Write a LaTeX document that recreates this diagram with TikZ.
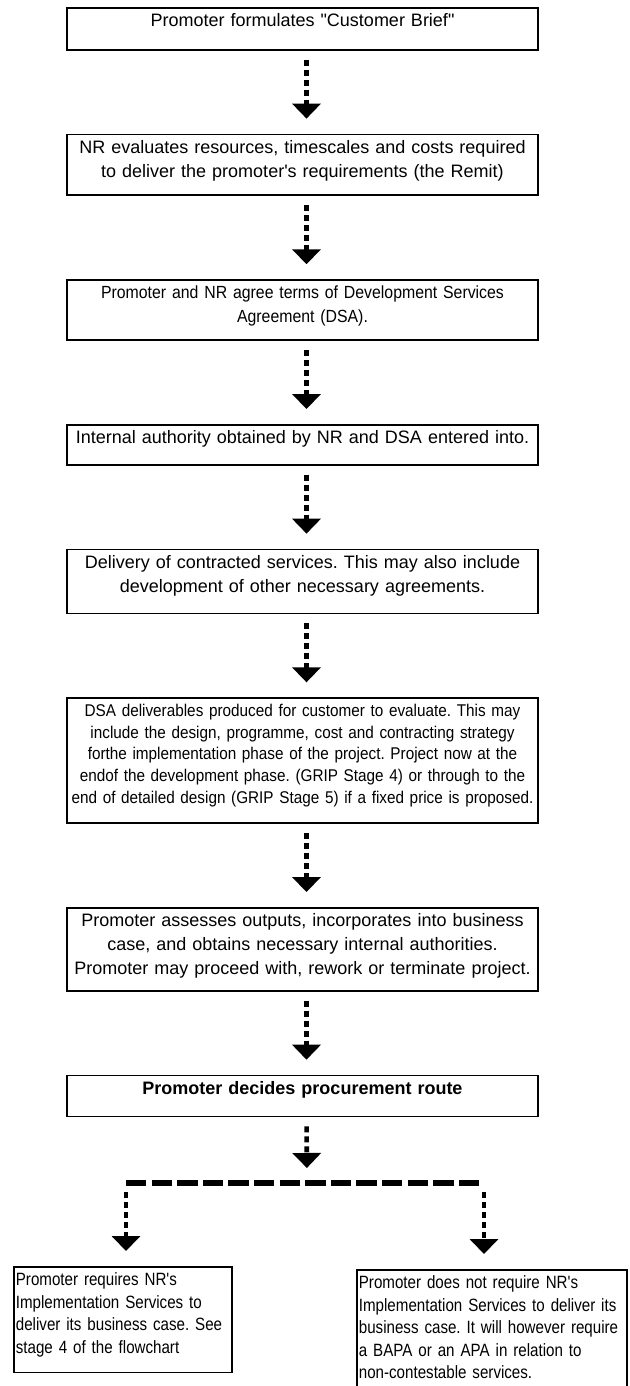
\documentclass[tikz,border=0pt]{standalone}
\usepackage{fontspec}
\setmainfont{Liberation Sans}[Ligatures=TeXOff]
\newfontfamily\narrowfont[FakeStretch=0.9,Ligatures=TeXOff]{Liberation Sans}
\newfontfamily\slimfont[FakeStretch=0.85,Ligatures=TeXOff]{Liberation Sans}
\frenchspacing
\usetikzlibrary{positioning,arrows.meta}

\begin{document}
\begin{tikzpicture}[x=1pt,y=1pt,node distance=41.5pt,
    box/.style={draw,line width=0.9pt,text width=229.5pt,inner xsep=3pt,inner ysep=3pt,align=center,font=\fontsize{9}{12}\selectfont},
    narrow/.style={box,text width=232.5pt,inner xsep=1.5pt,font=\narrowfont\fontsize{8.8}{12}\selectfont},
    side/.style={draw,line width=0.9pt,inner xsep=1pt,inner ysep=3pt,align=left,anchor=north west,font=\slimfont\fontsize{8.9}{11.2}\selectfont},
    flow/.style={line width=2.3pt,dash pattern=on 3pt off 2pt,-{Triangle[width=14pt,length=7.5pt]},shorten <=4.5pt,shorten >=7.5pt},
    branch/.style={line width=2.8pt,dash pattern=on 10.2pt off 2.6pt}]
  \useasboundingbox (0,0) rectangle (315,-693);
  \clip (0,0) rectangle (315,-693);

  \node[box,text depth=8.4pt,anchor=north] (b1) at (151.25,-3.5) {Promoter formulates "Customer Brief"};
  \node[box,text depth=17.9pt,below=of b1] (b2) {NR evaluates resources, timescales and costs required\\ to deliver the promoter's requirements (the Remit)};
  \node[narrow,text depth=17.6pt,below=of b2] (b3) {Promoter and NR agree terms of Development Services\\ Agreement (DSA).};
  \node[box,text depth=7.4pt,below=of b3] (b4) {Internal authority obtained by NR and DSA entered into.};
  \node[box,text depth=19.4pt,below=of b4] (b5) {Delivery of contracted services. This may also include\\ development of other necessary agreements.};
  \node[narrow,font=\narrowfont\fontsize{8.5}{10.85}\selectfont,text depth=50.3pt,below=of b5] (b6) {DSA deliverables produced for customer to evaluate. This may\\ include the design, programme, cost and contracting strategy\\ forthe implementation phase of the project. Project now at the\\ endof the development phase. (GRIP Stage 4) or through to the\\ end of detailed design (GRIP Stage 5) if a fixed price is proposed.};
  \node[box,text depth=28.9pt,below=of b6] (b7) {Promoter assesses outputs, incorporates into business\\ case, and obtains necessary internal authorities.\\ Promoter may proceed with, rework or terminate project.};
  \node[box,font=\fontsize{9}{12}\selectfont\bfseries,text depth=7.9pt,below=of b7] (b8) {Promoter decides procurement route};

  % the two routes
  \coordinate (split) at (153.5,-591.5);
  \coordinate (splitL) at (63,-591.5);
  \coordinate (splitR) at (242,-591.5);
  \node[side,text width=107pt,text depth=40.3pt] (left) at (6.5,-633) {Promoter requires NR's\\ Implementation Services to\\ deliver its business case. See\\ stage 4 of the flowchart};
  \node[side,text width=133pt,text depth=62pt] (right) at (178,-634.5) {Promoter does not require NR's\\ Implementation Services to deliver its\\ business case. It will however require\\ a BAPA or an APA in relation to\\ non-contestable services.};

  \draw[flow] ([xshift=2pt]b1.south) -- ([xshift=2pt]b2.north);
  \draw[flow] ([xshift=2pt]b2.south) -- ([xshift=2pt]b3.north);
  \draw[flow] ([xshift=2pt]b3.south) -- ([xshift=2pt]b4.north);
  \draw[flow] ([xshift=2pt]b4.south) -- ([xshift=2pt]b5.north);
  \draw[flow] ([xshift=2pt]b5.south) -- ([xshift=2pt]b6.north);
  \draw[flow] ([xshift=2pt]b6.south) -- ([xshift=2pt]b7.north);
  \draw[flow] ([xshift=2pt]b7.south) -- ([xshift=2pt]b8.north);
  \draw[flow] ([xshift=2pt]b8.south) -- (split);
  \draw[branch] (splitL) -- (splitR);
  \draw[flow] (splitL) -- (splitL |- left.north);
  \draw[flow] (splitR) -- (splitR |- right.north);
\end{tikzpicture}
\end{document}
